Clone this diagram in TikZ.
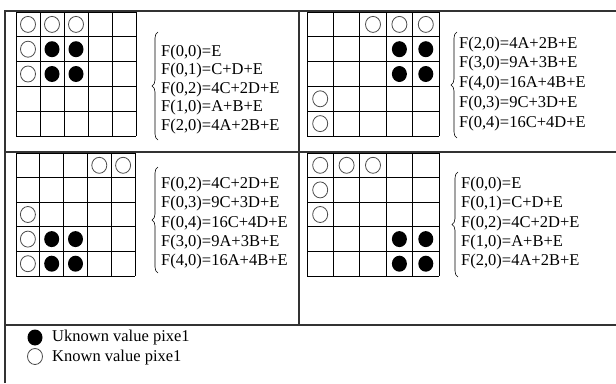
\documentclass[tikz,border=0pt]{standalone}
\usepackage{fontspec}
\setmainfont{Liberation Serif}
\usetikzlibrary{decorations.pathreplacing}

\tikzset{
  frameline/.style={draw=black!80, line width=1.2pt},
  cellgrid/.style={draw=black, line width=1pt},
  knownpix/.style={draw=black!70, line width=0.8pt},
  unknownpix/.style={fill=black},
  eqbrace/.style={decorate, decoration={brace, amplitude=6pt}, line width=0.6pt},
  eqtext/.style={anchor=base west, inner sep=0pt, font=\fontsize{16.5}{18}\selectfont},
}

\begin{document}
\begin{tikzpicture}[x=1pt, y=-1pt]
  \fill[white] (0,0) rectangle (616,383);
  \useasboundingbox (0,0) rectangle (616,383);

  % frame of the four panels and the legend
  \draw[frameline] (5,383) -- (5,11) -- (616,11);
  \draw[frameline] (5,152) -- (616,152);
  \draw[frameline] (5,325) -- (616,325);
  \draw[frameline] (299,11) -- (299,325);

  % panel 1
  \begin{scope}[shift={(16pt,-12pt)}, x=24pt, y=-24.8pt]
    \foreach \k in {0,...,5} {
      \draw[cellgrid] (\k,0) -- (\k,5);
      \draw[cellgrid] (0,\k) -- (5,\k);
    }
    \foreach \r/\c in {0/0, 0/1, 0/2, 1/0, 2/0}
      \draw[knownpix] (\c+0.5, \r+0.5) circle[x radius=7.5pt, y radius=8pt];
    \foreach \r/\c in {1/1, 1/2, 2/1, 2/2}
      \fill[unknownpix] (\c+0.5, \r+0.5) circle[x radius=7.5pt, y radius=8pt];
  \end{scope}
  \draw[eqbrace] (158,140) -- (158,32);
  \foreach \eq [count=\i from 0] in {{F(0,0)=E}, {F(0,1)=C+D+E}, {F(0,2)=4C+2D+E}, {F(1,0)=A+B+E}, {F(2,0)=4A+2B+E}}
    \node[eqtext] (eqa\i) at (161, {56+18.5*\i}) {\eq};

  % panel 2
  \begin{scope}[shift={(307pt,-12pt)}, x=26.4pt, y=-24.8pt]
    \foreach \k in {0,...,5} {
      \draw[cellgrid] (\k,0) -- (\k,5);
      \draw[cellgrid] (0,\k) -- (5,\k);
    }
    \foreach \r/\c in {0/2, 0/3, 0/4, 3/0, 4/0}
      \draw[knownpix] (\c+0.5, \r+0.5) circle[x radius=7.5pt, y radius=8pt];
    \foreach \r/\c in {1/3, 1/4, 2/3, 2/4}
      \fill[unknownpix] (\c+0.5, \r+0.5) circle[x radius=7.5pt, y radius=8pt];
  \end{scope}
  \draw[eqbrace] (457,138) -- (457,32);
  \foreach \eq [count=\i from 0] in {{F(2,0)=4A+2B+E}, {F(3,0)=9A+3B+E}, {F(4,0)=16A+4B+E}, {F(0,3)=9C+3D+E}, {F(0,4)=16C+4D+E}}
    \node[eqtext] (eqb\i) at (459, {48+19.75*\i}) {\eq};

  % panel 3
  \begin{scope}[shift={(16pt,-153pt)}, x=23.8pt, y=-24.6pt]
    \foreach \k in {0,...,5} {
      \draw[cellgrid] (\k,0) -- (\k,5);
      \draw[cellgrid] (0,\k) -- (5,\k);
    }
    \foreach \r/\c in {0/3, 0/4, 2/0, 3/0, 4/0}
      \draw[knownpix] (\c+0.5, \r+0.5) circle[x radius=7.5pt, y radius=8pt];
    \foreach \r/\c in {3/1, 3/2, 4/1, 4/2}
      \fill[unknownpix] (\c+0.5, \r+0.5) circle[x radius=7.5pt, y radius=8pt];
  \end{scope}
  \draw[eqbrace] (158,273) -- (158,167);
  \foreach \eq [count=\i from 0] in {{F(0,2)=4C+2D+E}, {F(0,3)=9C+3D+E}, {F(0,4)=16C+4D+E}, {F(3,0)=9A+3B+E}, {F(4,0)=16A+4B+E}}
    \node[eqtext] (eqc\i) at (161, {188.5+19.25*\i}) {\eq};

  % panel 4
  \begin{scope}[shift={(307pt,-153pt)}, x=26.4pt, y=-24.6pt]
    \foreach \k in {0,...,5} {
      \draw[cellgrid] (\k,0) -- (\k,5);
      \draw[cellgrid] (0,\k) -- (5,\k);
    }
    \foreach \r/\c in {0/0, 0/1, 0/2, 1/0, 2/0}
      \draw[knownpix] (\c+0.5, \r+0.5) circle[x radius=7.5pt, y radius=8pt];
    \foreach \r/\c in {3/3, 3/4, 4/3, 4/4}
      \fill[unknownpix] (\c+0.5, \r+0.5) circle[x radius=7.5pt, y radius=8pt];
  \end{scope}
  \draw[eqbrace] (458,277) -- (458,172);
  \foreach \eq [count=\i from 0] in {{F(0,0)=E}, {F(0,1)=C+D+E}, {F(0,2)=4C+2D+E}, {F(1,0)=A+B+E}, {F(2,0)=4A+2B+E}}
    \node[eqtext] (eqd\i) at (461, {188.5+19.25*\i}) {\eq};

  % legend
  \fill[unknownpix] (35,337.5) circle[x radius=7.5pt, y radius=8pt];
  \draw[knownpix] (35,356.5) circle[x radius=7.5pt, y radius=8pt];
  \node[eqtext] (unknown) at (52,341) {Uknown value pixe1};
  \node[eqtext] (known) at (52,361) {Known value pixe1};
\end{tikzpicture}
\end{document}
